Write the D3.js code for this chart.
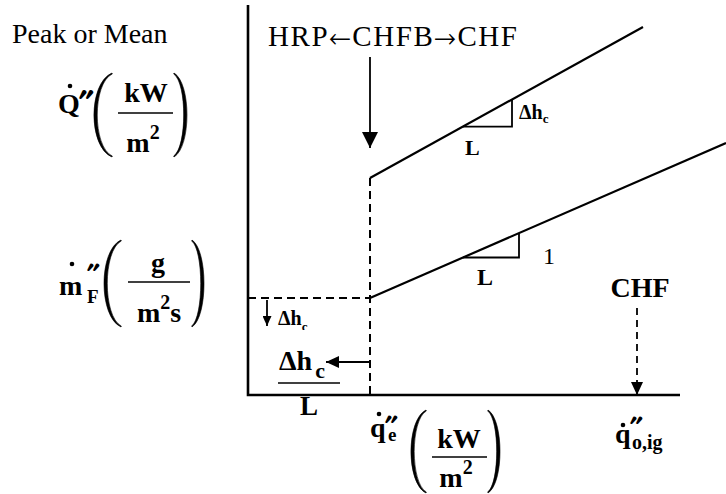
<!DOCTYPE html>
<html>
<head>
<meta charset="utf-8">
<script src="https://cdn.jsdelivr.net/npm/d3@7"></script>
<style>
  html, body { margin: 0; padding: 0; background: #fff; }
  svg { display: block; }
</style>
</head>
<body>
<svg id="chart" width="726" height="494"></svg>
<script>
// Schematic units: flux (horizontal) and response (vertical)
const fluxExtent = [0, 478];
const responseExtent = [0, 390];
const fluxAxisEnd = 432;           // end of the q̇e'' axis
const criticalFlux = 122;          // onset of flaming (step location)
const ignitionFlux = 389;          // CHF marker on the flux axis
const massLossAtCritical = 97;     // ṁ''F level at the step

// Straight-line responses above the critical flux
const heatReleaseLine = [[122, 217], [395, 368]];  // peak or mean Q̇''
const massLossLine = [[122, 97], [478, 252]];      // ṁ''F

// Slope triangles drawn on each line (flux start, flux end)
const heatReleaseSlope = [215, 264];
const massLossSlope = [215, 271];

// Text content
const headerText = "Peak or Mean";
const regimeParts = ["HRP", "\u2190", "CHFB", "\u2192", "CHF"];
const chfText = "CHF";

const serif = "'Liberation Serif', 'Times New Roman', Times, serif";
const symbolSerif = "FreeSerif, 'DejaVu Serif', serif";

const svg = d3.select("#chart");
const x = d3.scaleLinear().domain(fluxExtent).range([248, 726]);
const y = d3.scaleLinear().domain(responseExtent).range([395, 5]);

const yOn = (l, f) => {
  const [[x0, y0], [x1, y1]] = l;
  return y0 + (y1 - y0) * (f - x0) / (x1 - x0);
};

// Arrowhead markers
const defs = svg.append("defs");
function marker(id, w, h) {
  defs.append("marker")
    .attr("id", id)
    .attr("viewBox", `0 0 ${w} ${h}`)
    .attr("refX", w).attr("refY", h / 2)
    .attr("markerWidth", w).attr("markerHeight", h)
    .attr("markerUnits", "userSpaceOnUse")
    .attr("orient", "auto")
    .append("path")
    .attr("d", `M0,0 L${w},${h / 2} L0,${h} Z`)
    .attr("fill", "#000");
}
marker("headBig", 16, 16);
marker("headMid", 13, 12);
marker("headSmall", 10, 9);

defs.append("clipPath").attr("id", "clipSmall")
  .append("rect").attr("x", 260).attr("y", 300).attr("width", 100).attr("height", 30);

const line = d3.line().x(d => x(d[0])).y(d => y(d[1]));

// Axes
svg.append("path")
  .attr("d", line([[0, responseExtent[1]], [0, 0], [fluxAxisEnd, 0]]))
  .attr("fill", "none").attr("stroke", "#000").attr("stroke-width", 2.6);

// Dashed guides at the step
svg.append("path")
  .attr("d", line([[0, massLossAtCritical], [criticalFlux, massLossAtCritical]]))
  .attr("stroke", "#000").attr("stroke-width", 2).attr("stroke-dasharray", "8,5").attr("fill", "none");
svg.append("path")
  .attr("d", line([[criticalFlux, heatReleaseLine[0][1]], [criticalFlux, 0]]))
  .attr("stroke", "#000").attr("stroke-width", 2).attr("stroke-dasharray", "8,5").attr("fill", "none");

// Response lines
[heatReleaseLine, massLossLine].forEach(l => {
  svg.append("path").attr("d", line(l))
    .attr("fill", "none").attr("stroke", "#000").attr("stroke-width", 2.2);
});

// Slope triangles
function slopeTriangle(l, span) {
  const [f0, f1] = span;
  const r0 = yOn(l, f0), r1 = yOn(l, f1);
  svg.append("path")
    .attr("d", line([[f0, r0], [f1, r0], [f1, r1]]))
    .attr("fill", "none").attr("stroke", "#000").attr("stroke-width", 1.8);
}
slopeTriangle(heatReleaseLine, heatReleaseSlope);
slopeTriangle(massLossLine, massLossSlope);

// Arrows
svg.append("line")
  .attr("x1", x(criticalFlux)).attr("y1", 57)
  .attr("x2", x(criticalFlux)).attr("y2", 148)
  .attr("stroke", "#000").attr("stroke-width", 1.8).attr("marker-end", "url(#headBig)");
svg.append("line")
  .attr("x1", x(ignitionFlux)).attr("y1", 308)
  .attr("x2", x(ignitionFlux)).attr("y2", y(0))
  .attr("stroke", "#000").attr("stroke-width", 1.8).attr("stroke-dasharray", "7,5")
  .attr("marker-end", "url(#headMid)");
svg.append("line")
  .attr("x1", 267).attr("y1", 300).attr("x2", 267).attr("y2", 326)
  .attr("stroke", "#000").attr("stroke-width", 1.8).attr("marker-end", "url(#headSmall)");
svg.append("line")
  .attr("x1", x(criticalFlux) - 1).attr("y1", 362).attr("x2", 326).attr("y2", 362)
  .attr("stroke", "#000").attr("stroke-width", 1.8).attr("marker-end", "url(#headMid)");

// Text helpers
function text(px, py, s, o = {}) {
  const t = svg.append("text")
    .attr("x", px).attr("y", py)
    .attr("font-family", serif)
    .attr("font-size", o.size || 28)
    .attr("font-weight", o.weight || "bold")
    .attr("text-anchor", o.anchor || "start")
    .attr("fill", "#000");
  if (s != null) t.text(s);
  return t;
}
// Piece of a composite symbol placed at its own position
function part(t, px, py, s, size, family) {
  const p = t.append("tspan").attr("x", px).attr("y", py).text(s);
  if (size) p.attr("font-size", size);
  if (family) p.attr("font-family", family);
  return p;
}
function dot(px, py) {
  svg.append("circle").attr("cx", px).attr("cy", py).attr("r", 2.3).attr("fill", "#000");
}
// Tall round bracket drawn as a tapered curve from its end x to its bulge x
function paren(xEnd, xMid, top, bottom) {
  const h = bottom - top, s = Math.sign(xEnd - xMid), w = 3.2 * s;
  const cx = (xMid - 0.25 * xEnd) / 0.75;
  const cxi = (xMid + w - 0.25 * xEnd) / 0.75;
  const k = 0.12 * h;
  const d = `M${xEnd},${top} C${cx},${top + k} ${cx},${bottom - k} ${xEnd},${bottom}` +
            ` L${xEnd + 0.3 * s},${bottom - 1}` +
            ` C${cxi},${bottom - k} ${cxi},${top + k} ${xEnd + 0.3 * s},${top + 1} Z`;
  svg.append("path").attr("d", d).attr("fill", "#000").attr("stroke", "#000").attr("stroke-width", 0.6);
}
function fractionBar(x0, x1, py) {
  svg.append("line").attr("x1", x0).attr("x2", x1).attr("y1", py).attr("y2", py)
    .attr("stroke", "#000").attr("stroke-width", 1.6);
}
function withSup(px, py, base, sup, tail, anchor) {
  const t = text(px, py, null, { anchor });
  t.append("tspan").text(base);
  t.append("tspan").attr("font-size", 20).attr("dy", -13).text(sup);
  if (tail) t.append("tspan").attr("dy", 13).text(tail);
  return t;
}

// Header texts
text(12, 43, headerText, { size: 28, weight: "normal" });
const regime = text(268, 46, null, { size: 29, weight: "normal" })
  .attr("textLength", 249).attr("lengthAdjust", "spacing");
regimeParts.forEach((s, i) => {
  const p = regime.append("tspan").text(s);
  if (i % 2 === 1) p.attr("font-family", symbolSerif).attr("font-size", 27);
});

// Q̇'' (kW/m²)
const qLab = text(58, 113, null);
part(qLab, 58, 113, "Q");
part(qLab, 79, 113, "\u2033", 30, symbolSerif);
dot(70, 86);
paren(112, 94, 73, 157);
fractionBar(118, 173, 113);
text(146, 102, "kW", { anchor: "middle" });
withSup(143, 152, "m", "2", null, "middle");
paren(174, 187, 73, 157);

// ṁ''F (g/m²s)
const mLab = text(59, 295, null);
part(mLab, 59, 295, "m");
part(mLab, 87, 283, "\u2033", 26, symbolSerif);
part(mLab, 87, 303, "F", 19);
dot(72, 264);
paren(121, 104, 240, 327);
fractionBar(128, 190, 282);
text(158, 272, "g", { anchor: "middle" });
withSup(159, 322, "m", "2", "s", "middle");
paren(192, 204, 240, 327);

// q̇''e (kW/m²)
const qeLab = text(370, 437, null);
part(qeLab, 370, 437, "q");
part(qeLab, 385, 435, "\u2033", 26, symbolSerif);
part(qeLab, 388, 441, "e", 19);
dot(379, 414);
paren(426, 411, 410, 493);
fractionBar(432, 487, 457);
text(459, 448, "kW", { anchor: "middle" });
withSup(456, 487, "m", "2", null, "middle");
paren(488, 500, 410, 493);

// q̇''o,ig
const qoLab = text(615, 443, null);
part(qoLab, 615, 443, "q");
part(qoLab, 630, 436, "\u2033", 26, symbolSerif);
part(qoLab, 632, 449, "o,ig", 20);
dot(623, 425);

// Slope labels
const dh1 = text(519, 119, "\u0394h", { size: 20 });
dh1.append("tspan").attr("font-size", 13).attr("dy", 4).text("c");
text(465, 155, "L", { size: 22 });
text(543, 264, "1", { size: 24, weight: "normal" });
text(477, 285, "L", { size: 24 });
text(640, 297, chfText, { size: 28, anchor: "middle" });

// Step annotations
const dh2 = text(278, 325, "\u0394h", { size: 20 }).attr("clip-path", "url(#clipSmall)");
dh2.append("tspan").attr("font-size", 13).attr("dy", 6).text("c");
const dh3 = text(279, 370, "\u0394h", { size: 28 });
dh3.append("tspan").attr("font-size", 22).attr("dy", 8).attr("dx", 3).text("c");
fractionBar(278, 340, 383);
text(309, 415, "L", { size: 27, anchor: "middle" });
</script>
</body>
</html>
